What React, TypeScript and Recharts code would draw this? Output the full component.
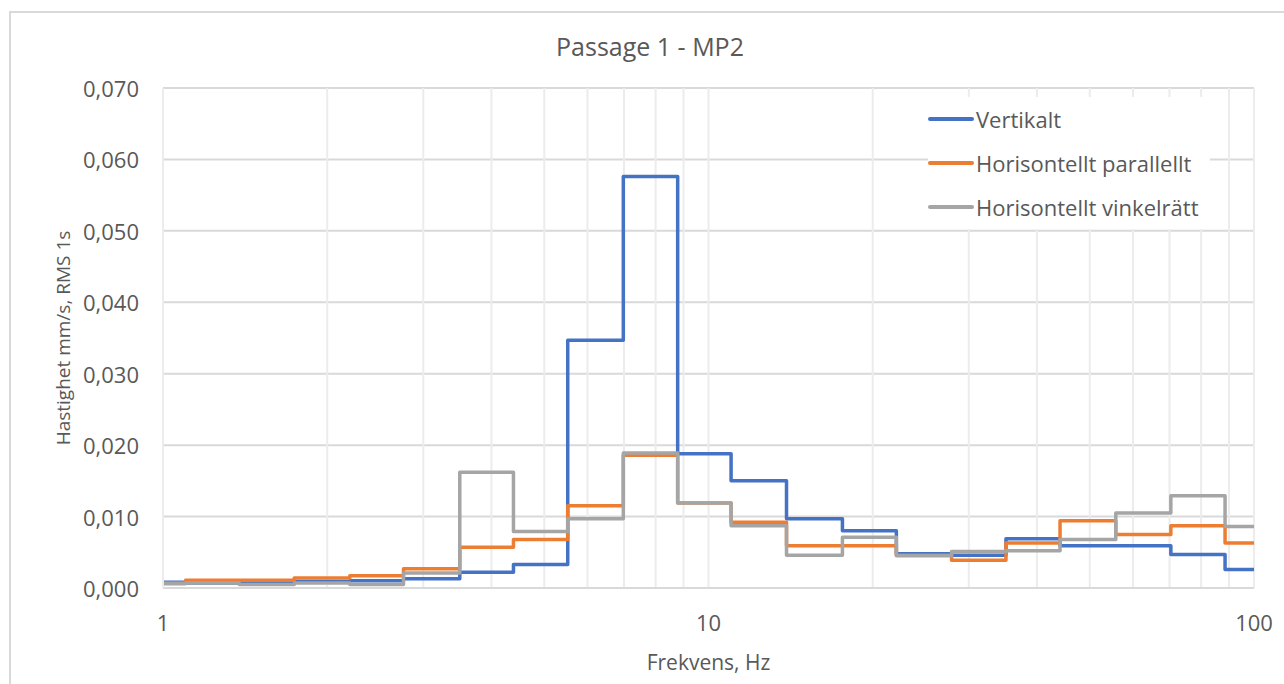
import React from "react";
import {
  LineChart,
  Line,
  XAxis,
  YAxis,
  CartesianGrid,
  ReferenceLine,
  Label,
} from "recharts";

// Third-octave band edges (Hz)
const bandEdges = [
  1, 1.1, 1.38, 1.74, 2.2, 2.76, 3.5, 4.39, 5.52, 6.98, 8.78, 11.0, 13.9, 17.6,
  22.1, 27.9, 35.1, 44.1, 55.8, 70.4, 88.5, 100,
];

// Band values (mm/s RMS 1s), one per band
const vertikalt = [
  0.0008, 0.0007, 0.0008, 0.0009, 0.001, 0.0013, 0.0022, 0.0033, 0.0347,
  0.0576, 0.0188, 0.015, 0.0097, 0.008, 0.0048, 0.0046, 0.0069, 0.0059, 0.0059,
  0.0047, 0.0026,
];
const horisontelltParallellt = [
  0.0007, 0.0011, 0.0011, 0.0014, 0.0017, 0.0027, 0.0057, 0.0068, 0.0115,
  0.0186, 0.0119, 0.0092, 0.0059, 0.0059, 0.0046, 0.0039, 0.0063, 0.0094,
  0.0075, 0.0087, 0.0063,
];
const horisontelltVinkelratt = [
  0.0006, 0.0007, 0.0005, 0.0007, 0.0005, 0.0021, 0.0162, 0.0079, 0.0097,
  0.0189, 0.0119, 0.0087, 0.0046, 0.0071, 0.0045, 0.0051, 0.0052, 0.0068,
  0.0105, 0.0129, 0.0086,
];

const xTicks = [1, 10, 100];
const yTicks = [0, 0.01, 0.02, 0.03, 0.04, 0.05, 0.06, 0.07];
const minorGridX = [
  2, 3, 4, 5, 6, 7, 8, 9, 10, 20, 30, 40, 50, 60, 70, 80, 90, 100,
];

const seriesNames = [
  "Vertikalt",
  "Horisontellt parallellt",
  "Horisontellt vinkelrätt",
];
const seriesColors = ["#4472C4", "#ED7D31", "#A5A5A5"];

const nBands = vertikalt.length;
const data = bandEdges.map((f, i) => {
  const k = Math.min(i, nBands - 1);
  return {
    f,
    v: vertikalt[k],
    p: horisontelltParallellt[k],
    h: horisontelltVinkelratt[k],
  };
});

const FONT = "'Open Sans', 'Noto Sans', sans-serif";
const TEXT = "#595959";

const fmtY = (v: number) => v.toFixed(3).replace(".", ",");

const YTick = (props: any) => {
  const { x, y, payload } = props;
  return (
    <text
      x={x - 22}
      y={y}
      textAnchor="end"
      dominantBaseline="central"
      fill={TEXT}
      fontSize={22}
      fontFamily={FONT}
    >
      {fmtY(payload.value)}
    </text>
  );
};

const XTick = (props: any) => {
  const { x, y, payload } = props;
  return (
    <text
      x={x}
      y={y + 32}
      textAnchor="middle"
      dominantBaseline="central"
      fill={TEXT}
      fontSize={22}
      fontFamily={FONT}
    >
      {payload.value}
    </text>
  );
};

const YLabel = (props: any) => {
  const vb = props.viewBox || {};
  const cx = (vb.x ?? 0) + 63;
  const cy = (vb.y ?? 0) + (vb.height ?? 0) / 2;
  return (
    <text
      x={cx}
      y={cy}
      transform={`rotate(-90, ${cx}, ${cy})`}
      textAnchor="middle"
      dominantBaseline="central"
      fill={TEXT}
      fontSize={19}
      fontFamily={FONT}
    >
      Hastighet mm/s, RMS 1s
    </text>
  );
};

const LegendBox = () => (
  <div
    style={{
      position: "absolute",
      left: 928,
      top: 97,
      fontFamily: FONT,
      color: TEXT,
      fontSize: 22,
      background: "#fff",
      paddingRight: 12,
    }}
  >
    {seriesNames.map((name, i) => (
      <div
        key={name}
        style={{ display: "flex", alignItems: "center", height: 44 }}
      >
        <svg width={48} height={10} style={{ display: "block" }}>
          <line
            x1={2}
            y1={5}
            x2={44}
            y2={5}
            stroke={seriesColors[i]}
            strokeWidth={4}
            strokeLinecap="round"
          />
        </svg>
        <span style={{ whiteSpace: "nowrap", lineHeight: "24px" }}>{name}</span>
      </div>
    ))}
  </div>
);

export default function App() {
  return (
    <div
      style={{
        position: "absolute",
        left: 0,
        top: 0,
        width: 1284,
        height: 684,
        overflow: "hidden",
        background: "#fff",
      }}
    >
      <div
        style={{
          position: "absolute",
          left: 9,
          top: 11,
          width: 1300,
          height: 700,
          border: "2px solid #d9d9d9",
        }}
      />
      <div
        style={{
          position: "absolute",
          left: 0,
          width: 1300,
          top: 29,
          textAlign: "center",
          fontFamily: FONT,
          fontSize: 25,
          color: TEXT,
        }}
      >
        Passage 1 - MP2
      </div>
      <div style={{ position: "absolute", left: 0, top: 0 }}>
        <LineChart
          width={1284}
          height={684}
          data={data}
          margin={{ top: 88, right: 30, bottom: 0, left: 0 }}
        >
          <CartesianGrid vertical={false} stroke="#d9d9d9" strokeWidth={2} />
          {minorGridX.map((g) => (
            <ReferenceLine
              key={g}
              x={g}
              stroke="#ececec"
              strokeWidth={2}
              ifOverflow="extendDomain"
            />
          ))}
          <XAxis
            dataKey="f"
            type="number"
            scale="log"
            domain={[1, 100]}
            ticks={xTicks}
            allowDataOverflow
            height={96}
            axisLine={{ stroke: "#d9d9d9", strokeWidth: 2 }}
            tickLine={false}
            tickSize={0}
            tick={<XTick />}
          >
            <Label
              value="Frekvens, Hz"
              position="insideBottom"
              offset={14}
              fill={TEXT}
              fontSize={21}
              fontFamily={FONT}
            />
          </XAxis>
          <YAxis
            type="number"
            domain={[0, 0.07]}
            ticks={yTicks}
            width={163}
            axisLine={{ stroke: "#ececec", strokeWidth: 2 }}
            tickLine={false}
            tickSize={0}
            tick={<YTick />}
          >
            <Label content={<YLabel />} />
          </YAxis>
          <Line
            type="stepAfter"
            dataKey="v"
            name={seriesNames[0]}
            stroke={seriesColors[0]}
            strokeWidth={3.5}
            strokeLinejoin="round"
            dot={false}
            activeDot={false}
            isAnimationActive={false}
          />
          <Line
            type="stepAfter"
            dataKey="p"
            name={seriesNames[1]}
            stroke={seriesColors[1]}
            strokeWidth={3.5}
            strokeLinejoin="round"
            dot={false}
            activeDot={false}
            isAnimationActive={false}
          />
          <Line
            type="stepAfter"
            dataKey="h"
            name={seriesNames[2]}
            stroke={seriesColors[2]}
            strokeWidth={3.5}
            strokeLinejoin="round"
            dot={false}
            activeDot={false}
            isAnimationActive={false}
          />
        </LineChart>
      </div>
      <LegendBox />
    </div>
  );
}
